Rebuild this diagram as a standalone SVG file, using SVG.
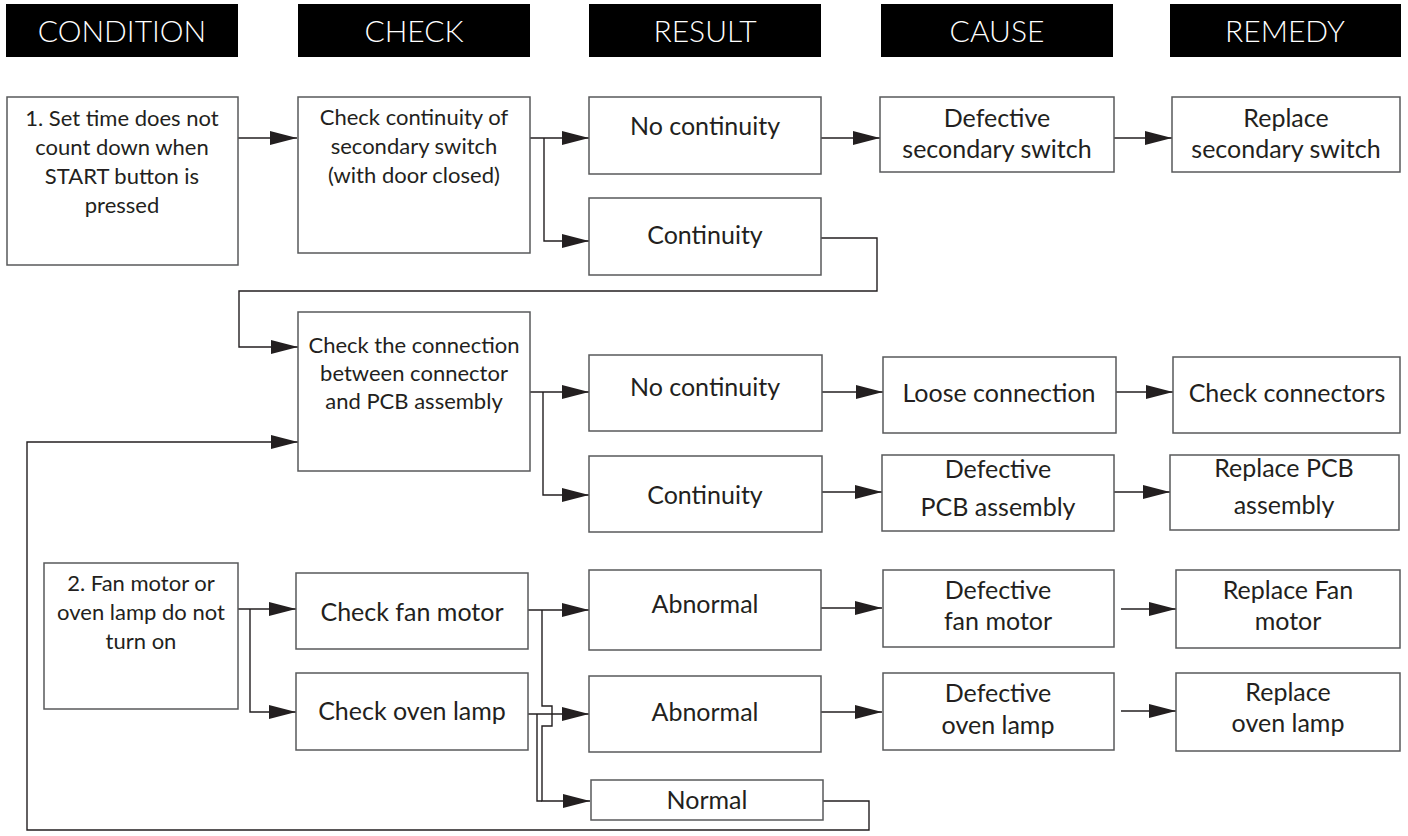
<svg xmlns="http://www.w3.org/2000/svg" width="1408" height="836" viewBox="0 0 1408 836">
<style>
.hdr{fill:#000}
.ht{font-family:Lato,"Liberation Sans",sans-serif;font-weight:300;font-size:30px;fill:#fff;text-anchor:middle}
.box{fill:#fff;stroke:#58595b;stroke-width:1.5}
.t{font-family:Lato,"Liberation Sans",sans-serif;font-size:22px;fill:#231f20;text-anchor:middle}
.tl{font-family:Lato,"Liberation Sans",sans-serif;font-size:25px;fill:#231f20;text-anchor:middle}
.c{fill:none;stroke:#231f20;stroke-width:1.4}
.a{marker-end:url(#ah)}
</style>
<defs>
<marker id="ah" markerWidth="28" markerHeight="16" refX="27" refY="8" orient="auto" markerUnits="userSpaceOnUse">
<path d="M0,1 L27,8 L0,15 z" fill="#231f20"/>
</marker>
</defs>
<rect width="1408" height="836" fill="#fff"/>
<g id="headers">
<rect class="hdr" x="6" y="4" width="232" height="53"/><text class="ht" x="122" y="42">CONDITION</text>
<rect class="hdr" x="298" y="4" width="232" height="53"/><text class="ht" x="414" y="42">CHECK</text>
<rect class="hdr" x="589" y="4" width="232" height="53"/><text class="ht" x="705" y="42">RESULT</text>
<rect class="hdr" x="881" y="4" width="232" height="53"/><text class="ht" x="997" y="42">CAUSE</text>
<rect class="hdr" x="1170" y="4" width="231" height="53"/><text class="ht" x="1285" y="42">REMEDY</text>
</g>
<g id="connectors">
<path class="c a" d="M238,138 H297"/>
<path class="c a" d="M530,138 H589"/>
<path class="c a" d="M544,138 V241 H589"/>
<path class="c a" d="M821,138 H880"/>
<path class="c a" d="M1114,138 H1172"/>
<path class="c a" d="M821,238 H877 V291 H239 V347 H298"/>
<path class="c a" d="M530,392 H589"/>
<path class="c a" d="M543,392 V495 H589"/>
<path class="c a" d="M822,392 H883"/>
<path class="c a" d="M1116,392 H1173"/>
<path class="c a" d="M822,492 H882"/>
<path class="c a" d="M1114,492 H1170"/>
<path class="c a" d="M238,609 H296"/>
<path class="c a" d="M250,609 V712 H296"/>
<path class="c a" d="M528,610 H589"/>
<path class="c a" d="M542,610 V706 H552 V726 H542 V801 H590"/>
<path class="c a" d="M528,714 H589"/>
<path class="c" d="M537,714 V801 H542"/>
<path class="c a" d="M821,608 H882"/>
<path class="c a" d="M1121,609 H1176"/>
<path class="c a" d="M821,712 H882"/>
<path class="c a" d="M1121,711 H1176"/>
<path class="c a" d="M823,801 H869 V830 H27 V442 H298"/>
</g>
<g id="cond1"><rect class="box" x="7" y="97" width="231" height="168"/>
<text class="t" x="122" y="126">1. Set time does not</text><text class="t" x="122" y="155">count down when</text><text class="t" x="122" y="184">START button is</text><text class="t" x="122" y="213">pressed</text></g>
<g id="check1"><rect class="box" x="298" y="97" width="232" height="156"/>
<text class="t" x="414" y="125">Check continuity of</text><text class="t" x="414" y="154">secondary switch</text><text class="t" x="414" y="183">(with door closed)</text></g>
<g id="r1a"><rect class="box" x="589" y="97" width="232" height="77"/><text class="tl" x="705" y="135">No continuity</text></g>
<g id="r1b"><rect class="box" x="589" y="198" width="232" height="77"/><text class="tl" x="705" y="244">Continuity</text></g>
<g id="c1"><rect class="box" x="880" y="97" width="234" height="75"/><text class="tl" x="997" y="127">Defective</text><text class="tl" x="997" y="158">secondary switch</text></g>
<g id="m1"><rect class="box" x="1172" y="97" width="228" height="75"/><text class="tl" x="1286" y="127">Replace</text><text class="tl" x="1286" y="158">secondary switch</text></g>
<g id="check2"><rect class="box" x="298" y="312" width="232" height="159"/>
<text class="t" x="414" y="353">Check the connection</text><text class="t" x="414" y="381">between connector</text><text class="t" x="414" y="409">and PCB assembly</text></g>
<g id="r2a"><rect class="box" x="589" y="355" width="233" height="76"/><text class="tl" x="705" y="396">No continuity</text></g>
<g id="r2b"><rect class="box" x="589" y="456" width="233" height="76"/><text class="tl" x="705" y="504">Continuity</text></g>
<g id="c2a"><rect class="box" x="883" y="357" width="233" height="76"/><text class="tl" x="999" y="402">Loose connection</text></g>
<g id="m2a"><rect class="box" x="1173" y="357" width="227" height="76"/><text class="tl" x="1287" y="402">Check connectors</text></g>
<g id="c2b"><rect class="box" x="882" y="455" width="232" height="76"/><text class="tl" x="998" y="478">Defective</text><text class="tl" x="998" y="516">PCB assembly</text></g>
<g id="m2b"><rect class="box" x="1170" y="455" width="229" height="75"/><text class="tl" x="1284" y="477">Replace PCB</text><text class="tl" x="1284" y="514">assembly</text></g>
<g id="cond2"><rect class="box" x="44" y="563" width="194" height="146"/>
<text class="t" x="141" y="591">2. Fan motor or</text><text class="t" x="141" y="620">oven lamp do not</text><text class="t" x="141" y="649">turn on</text></g>
<g id="fan"><rect class="box" x="296" y="573" width="232" height="76"/><text class="tl" x="412" y="621">Check fan motor</text></g>
<g id="lamp"><rect class="box" x="296" y="673" width="232" height="77"/><text class="tl" x="412" y="720">Check oven lamp</text></g>
<g id="r3a"><rect class="box" x="589" y="570" width="232" height="80"/><text class="tl" x="705" y="613">Abnormal</text></g>
<g id="r3b"><rect class="box" x="589" y="676" width="232" height="76"/><text class="tl" x="705" y="721">Abnormal</text></g>
<g id="r3c"><rect class="box" x="591" y="780" width="232" height="40"/><text class="tl" x="707" y="809">Normal</text></g>
<g id="c3a"><rect class="box" x="883" y="570" width="231" height="77"/><text class="tl" x="998" y="599">Defective</text><text class="tl" x="998" y="630">fan motor</text></g>
<g id="m3a"><rect class="box" x="1176" y="570" width="224" height="78"/><text class="tl" x="1288" y="599">Replace Fan</text><text class="tl" x="1288" y="630">motor</text></g>
<g id="c3b"><rect class="box" x="883" y="673" width="231" height="77"/><text class="tl" x="998" y="702">Defective</text><text class="tl" x="998" y="734">oven lamp</text></g>
<g id="m3b"><rect class="box" x="1176" y="673" width="224" height="78"/><text class="tl" x="1288" y="701">Replace</text><text class="tl" x="1288" y="732">oven lamp</text></g>
</svg>
